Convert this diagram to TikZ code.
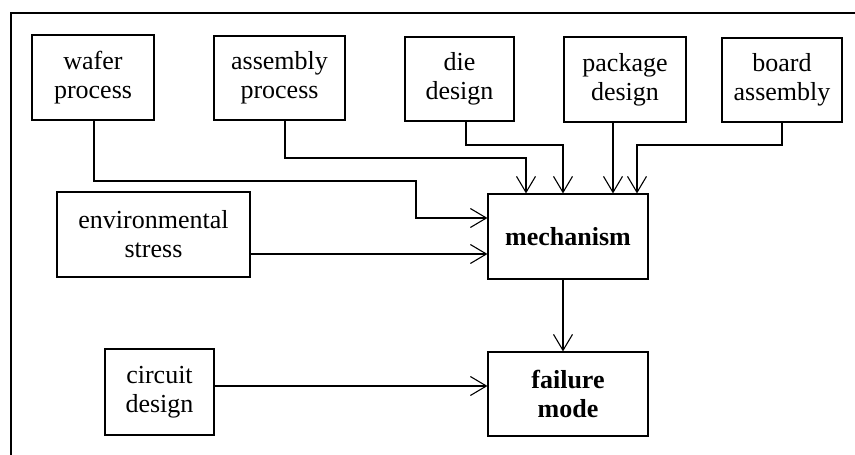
\documentclass[tikz,border=0pt]{standalone}
\usepackage{fontspec}
\setmainfont{Liberation Serif}
\usetikzlibrary{arrows.meta}

\tikzset{
  box/.style={draw, line width=1.1pt, inner sep=0pt, align=center,
    font=\fontsize{26}{29}\selectfont},
  keybox/.style={box, font=\fontsize{26}{29}\selectfont\bfseries},
  arr/.style={line width=1.1pt, -{Straight Barb[length=16pt,width=19pt,line width=1.1pt]}},
  frame/.style={line width=2.6pt}
}

\begin{document}
\begin{tikzpicture}[x=1pt,y=-1pt]
\useasboundingbox (0,0) rectangle (855,455);

% outer frame (top and left edges)
\draw[frame] (11,455) -- (11,13) -- (855,13);

% source boxes along the top
\node[box, minimum width=122pt, minimum height=85pt] (wafer) at (93,77.5) {wafer\\process};
\node[box, minimum width=131pt, minimum height=84pt] (asm) at (279.5,78) {assembly\\process};
\node[box, minimum width=109pt, minimum height=84pt] (die) at (459.5,79) {die\\design};
\node[box, minimum width=122pt, minimum height=85pt] (pkg) at (625,79.5) {package\\design};
\node[box, minimum width=120pt, minimum height=84pt] (board) at (782,80) {board\\assembly};

% middle and lower rows
\node[box, minimum width=193pt, minimum height=85pt] (env) at (153.5,234.5) {environmental\\stress};
\node[keybox, minimum width=160pt, minimum height=85pt] (mech) at (568,236.5) {mechanism};
\node[box, minimum width=109pt, minimum height=86pt] (circ) at (159.5,392) {circuit\\design};
\node[keybox, minimum width=160pt, minimum height=84pt] (fail) at (568,394) {failure\\mode};

% connectors into the mechanism box
\draw[arr] (wafer.south -| 94,0) -- (94,181) -- (416,181) -- (416,218) -- (mech.west |- 0,218);
\draw[arr] (asm.south -| 285,0) -- (285,158) -- (526,158) -- (mech.north -| 526,0);
\draw[arr] (die.south -| 466,0) -- (466,145) -- (563,145) -- (mech.north -| 563,0);
\draw[arr] (pkg.south -| 613,0) -- (mech.north -| 613,0);
\draw[arr] (board.south -| 782,0) -- (782,145) -- (637,145) -- (mech.north -| 637,0);
\draw[arr] (env.east |- 0,254) -- (mech.west |- 0,254);

% connectors into the failure mode box
\draw[arr] (mech.south -| 563,0) -- (fail.north -| 563,0);
\draw[arr] (circ.east |- 0,386) -- (fail.west |- 0,386);

\end{tikzpicture}
\end{document}
